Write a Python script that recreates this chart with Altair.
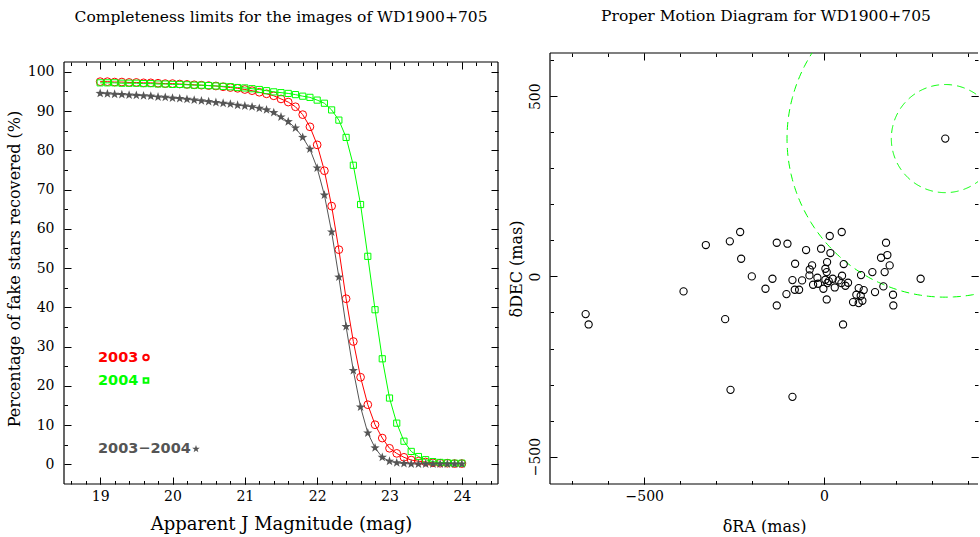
import altair as alt
import numpy as np
import pandas as pd

# ---------------- data: completeness curves ----------------
mag = [19.0, 19.1, 19.2, 19.3, 19.4, 19.5, 19.6, 19.7, 19.8, 19.9,
       20.0, 20.1, 20.2, 20.3, 20.4, 20.5, 20.6, 20.7, 20.8, 20.9,
       21.0, 21.1, 21.2, 21.3, 21.4, 21.5, 21.6, 21.7, 21.8, 21.9,
       22.0, 22.1, 22.2, 22.3, 22.4, 22.5, 22.6, 22.7, 22.8, 22.9,
       23.0, 23.1, 23.2, 23.3, 23.4, 23.5, 23.6, 23.7, 23.8, 23.9, 24.0]

rec_2003 = [97.5, 97.5, 97.4, 97.4, 97.3, 97.3, 97.2, 97.2, 97.1, 97.0,
            97.0, 96.9, 96.8, 96.7, 96.6, 96.5, 96.4, 96.2, 96.0, 95.8,
            95.5, 95.2, 94.8, 94.4, 93.9, 93.1, 92.3, 91.1, 89.1, 86.0,
            81.4, 74.8, 65.8, 54.7, 42.2, 31.3, 22.2, 15.2, 10.1, 6.7,
            4.1, 2.8, 1.8, 1.1, 0.8, 0.6, 0.4, 0.3, 0.3, 0.2, 0.2]

rec_2004 = [97.2, 97.2, 97.2, 97.1, 97.1, 97.1, 97.0, 97.0, 96.9, 96.9,
            96.8, 96.8, 96.7, 96.6, 96.6, 96.5, 96.4, 96.3, 96.2, 96.0,
            95.9, 95.7, 95.5, 95.2, 94.9, 94.7, 94.5, 94.2, 93.8, 93.5,
            92.8, 92.0, 90.3, 87.7, 83.3, 76.2, 66.2, 53.0, 39.4, 26.9,
            16.9, 10.5, 5.9, 3.3, 2.0, 1.2, 0.7, 0.5, 0.4, 0.3, 0.3]

rec_both = [94.5, 94.4, 94.3, 94.2, 94.1, 94.0, 93.9, 93.8, 93.6, 93.5,
            93.3, 93.2, 93.0, 92.8, 92.6, 92.4, 92.2, 92.0, 91.8, 91.5,
            91.3, 91.1, 90.7, 90.3, 89.6, 88.5, 87.3, 85.7, 83.3, 80.3,
            75.5, 68.6, 59.2, 47.7, 35.1, 23.9, 14.6, 8.0, 4.2, 1.8,
            0.8, 0.4, 0.2, 0.1, 0.1, 0.1, 0.1, 0.1, 0.1, 0.1, 0.1]

legend_labels = ["2003", "2004", "2003\u22122004"]

# ---------------- data: proper motion diagram ----------------
pm_ra = [-662.9, -654.6, -390.7, -328.7, -262.0, -233.3, -230.5, -275.0, -260.1, -200.9,
         -162.9, -143.5, -131.5, -101.8, -131.5, -104.6, -87.9, -87.9, -80.5, -81.4,
         -69.4, -61.1, -50.0, -39.8, -33.3, -40.7, -30.5, -18.5, -16.7, -8.3,
         -1.9, 3.7, 8.4, 7.4, 3.7, 9.3, 15.8, 17.6, 13.0, 24.1,
         29.7, 7.4, 40.8, 49.1, 50.0, 54.7, 48.2, 59.3, 66.7, 52.8,
         102.8, 96.3, 110.2, 89.8, 101.9, 80.6, 96.3, 106.5, 134.3, 141.7,
         158.4, 172.3, 176.0, 168.5, 182.4, 164.9, 191.7, 192.6, 268.5, 337.0]
pm_dec = [-104.6, -133.3, -41.6, 87.1, 97.3, 123.2, 49.1, -118.5, -314.8, 0.0,
          -34.2, -6.5, 93.5, 90.8, -80.5, -49.1, -334.2, -10.2, 35.2, -37.0,
          -37.0, -11.1, 73.2, 19.4, 30.6, 2.8, -23.1, -3.7, -20.4, 76.9,
          -34.2, 21.3, 39.8, 12.0, -9.3, -18.5, 112.1, 64.9, -12.9, -6.5,
          -30.6, -63.9, -11.1, 123.2, 1.9, 34.3, -18.5, -25.9, -17.6, -133.3,
          3.7, -32.4, -37.9, -50.9, -53.7, -71.3, -74.0, -67.6, 12.0, -43.5,
          51.9, 93.6, 59.3, 12.0, 30.6, -27.7, -50.9, -80.5, -6.5, 382.5]

target_ra = 337.0
target_dec = 382.5
circle_radii = [150.0, 440.0]

# ---------------- styling ----------------
SERIF = "DejaVu Serif"
SANS = "DejaVu Sans"
RED, GREEN, GREY = "#ff0000", "#00ff00", "#555555"
STAR = ("M0,-1 L0.235,-0.324 L0.951,-0.309 L0.380,0.124 L0.588,0.809 L0,0.4 "
        "L-0.588,0.809 L-0.380,0.124 L-0.951,-0.309 L-0.235,-0.324 Z")
MAJ, MIN = 7, 3.5


def axis(orient, values, size, labels=False, title=None, inset=0, **kw):
    args = dict(orient=orient, values=values, tickSize=size, offset=-(size + inset),
                domain=False, grid=False, labels=labels, ticks=True,
                tickColor="black", tickWidth=1, title=title, labelFlush=False)
    args.update(kw)
    return alt.Axis(**args)


def frame_axes(data, xf, yf, xs, ys, xmaj, xmin, ymaj, ymin, xkw, ykw, top_inset=0):
    base = alt.Chart(data).mark_point(opacity=0)
    return [
        base.encode(x=alt.X(xf, scale=xs, axis=axis("bottom", xmaj, MAJ, True, **xkw)),
                    y=alt.Y(yf, scale=ys, axis=axis("left", ymaj, MAJ, True, **ykw))),
        base.encode(x=alt.X(xf, scale=xs, axis=axis("top", xmaj, MAJ, inset=top_inset)),
                    y=alt.Y(yf, scale=ys, axis=axis("right", ymaj, MAJ))),
        base.encode(x=alt.X(xf, scale=xs, axis=axis("bottom", xmin, MIN)),
                    y=alt.Y(yf, scale=ys, axis=axis("left", ymin, MIN))),
        base.encode(x=alt.X(xf, scale=xs, axis=axis("top", xmin, MIN, inset=top_inset)),
                    y=alt.Y(yf, scale=ys, axis=axis("right", ymin, MIN))),
    ]


def frame_rules(W, H, sides, top=0):
    one = alt.Chart(pd.DataFrame({"k": [0]}))
    out = []
    r = dict(color="black", strokeWidth=1.2)
    if "left" in sides:
        out.append(one.mark_rule(**r).encode(x=alt.value(0), y=alt.value(top), y2=alt.value(H)))
    if "right" in sides:
        out.append(one.mark_rule(**r).encode(x=alt.value(W), y=alt.value(top), y2=alt.value(H)))
    if "top" in sides:
        out.append(one.mark_rule(**r).encode(y=alt.value(top), x=alt.value(0), x2=alt.value(W)))
    if "bottom" in sides:
        out.append(one.mark_rule(**r).encode(y=alt.value(H), x=alt.value(0), x2=alt.value(W)))
    return out


# ================= left panel =================
W1, H1 = 434, 431
TOP1 = 9  # frame top inside the panel (px)
xs1 = alt.Scale(domain=[18.5, 24.5], nice=False, zero=False)
ys1 = alt.Scale(domain=[-5, 104.8], nice=False, zero=False)

x_major1 = [19, 20, 21, 22, 23, 24]
x_minor1 = [round(18.6 + 0.2 * i, 1) for i in range(30)]
y_major1 = list(range(0, 101, 10))
y_minor1 = list(range(5, 101, 10))

curves = pd.DataFrame({"mag": mag, "r03": rec_2003, "r04": rec_2004, "rb": rec_both})


def series(field, color, shape, size, filled):
    base = alt.Chart(curves).encode(
        x=alt.X("mag:Q", scale=xs1, axis=None),
        y=alt.Y(f"{field}:Q", scale=ys1, axis=None),
    )
    line = base.mark_line(color=color, strokeWidth=1)
    pts = base.mark_point(shape=shape, size=size, color=color, filled=filled,
                          strokeWidth=1, opacity=1)
    return [line, pts]


one = alt.Chart(pd.DataFrame({"k": [0]}))
leg_txt = dict(align="left", baseline="middle", font=SANS, fontWeight="bold", fontSize=14.5)
legend = [
    one.mark_text(color=RED, **leg_txt).encode(x=alt.value(34), y=alt.value(304.5), text=alt.value(legend_labels[0])),
    one.mark_point(shape="circle", size=30, color=RED, filled=False, strokeWidth=2, opacity=1).encode(x=alt.value(82), y=alt.value(304.5)),
    one.mark_text(color=GREEN, **leg_txt).encode(x=alt.value(34), y=alt.value(327.5), text=alt.value(legend_labels[1])),
    one.mark_point(shape="square", size=22, color=GREEN, filled=False, strokeWidth=2, opacity=1).encode(x=alt.value(82), y=alt.value(327.5)),
    one.mark_text(color=GREY, **leg_txt).encode(x=alt.value(34), y=alt.value(396), text=alt.value(legend_labels[2])),
    one.mark_point(shape=STAR, size=64, color=GREY, filled=True, opacity=1).encode(x=alt.value(132), y=alt.value(396)),
]

left_layers = (
    frame_rules(W1, H1, ["left", "right", "top", "bottom"], top=TOP1)
    + frame_axes(curves, "mag:Q", "r03:Q", xs1, ys1, x_major1, x_minor1, y_major1, y_minor1,
                 dict(title="Apparent J Magnitude (mag)", format="d", labelPadding=5,
                      titlePadding=12, titleFontSize=18),
                 dict(title="Percentage of fake stars recovered (%)", format="d",
                      labelPadding=10, titlePadding=5),
                 top_inset=TOP1)
    + series("r03", RED, "circle", 60, False)
    + series("r04", GREEN, "square", 38, False)
    + series("rb", GREY, STAR, 95, True)
    + legend
)

TITLE_KW = dict(font=SERIF, fontSize=15.5, fontWeight="normal", offset=28,
                anchor="middle", color="black")

left = alt.layer(*left_layers).resolve_axis(x="independent", y="independent").properties(
    width=W1, height=H1,
    title=alt.TitleParams("Completeness limits for the images of WD1900+705", **TITLE_KW),
)

# ================= right panel =================
W2, H2 = 428, 431
xs2 = alt.Scale(domain=[-762, 428], nice=False, zero=False)
ys2 = alt.Scale(domain=[-576, 620], nice=False, zero=False)

x_major2 = [-500, 0]
x_minor2 = list(range(-700, 401, 100))
y_major2 = [-500, 0, 500]
y_minor2 = list(range(-500, 601, 100))

pm = pd.DataFrame({"ra": pm_ra, "dec": pm_dec})

theta = np.linspace(0, 2 * np.pi, 361)
circ_rows = []
for k, r in enumerate(circle_radii):
    for i, t in enumerate(theta):
        circ_rows.append({"c": k, "i": i,
                          "ra": target_ra + r * np.cos(t),
                          "dec": target_dec + r * np.sin(t)})
circ = pd.DataFrame(circ_rows)

circles = alt.Chart(circ).mark_line(color=GREEN, strokeWidth=1, strokeDash=[8, 5], clip=True).encode(
    x=alt.X("ra:Q", scale=xs2, axis=None),
    y=alt.Y("dec:Q", scale=ys2, axis=None),
    detail="c:N",
    order="i:Q",
)
stars = alt.Chart(pm).mark_point(shape="circle", size=52, color="black", filled=False,
                                 strokeWidth=1.1, opacity=1).encode(
    x=alt.X("ra:Q", scale=xs2, axis=None),
    y=alt.Y("dec:Q", scale=ys2, axis=None),
)

right_layers = (
    frame_rules(W2, H2, ["left", "top", "bottom"])
    + frame_axes(pm, "ra:Q", "dec:Q", xs2, ys2, x_major2, x_minor2, y_major2, y_minor2,
                 dict(title="\u03b4RA (mas)", labelPadding=5, titlePadding=15),
                 dict(title="\u03b4DEC (mas)", labelPadding=8, titlePadding=4,
                      labelAngle=270, labelAlign="center", labelBaseline="bottom"))
    + [circles, stars]
)

right = alt.layer(*right_layers).resolve_axis(x="independent", y="independent").properties(
    width=W2, height=H2,
    title=alt.TitleParams("Proper Motion Diagram for WD1900+705", dx=2, **TITLE_KW),
)

chart = alt.hconcat(left, right, spacing=9).properties(
    padding={"left": 6, "top": 8, "right": 0, "bottom": 0},
    background="white",
).configure_view(strokeWidth=0).configure_axis(
    labelFont=SERIF, labelFontSize=14, labelColor="black",
    titleFont=SERIF, titleFontSize=16, titleFontWeight="normal", titleColor="black",
)

chart.save("out.html", embed_options={"renderer": "svg", "actions": False})
